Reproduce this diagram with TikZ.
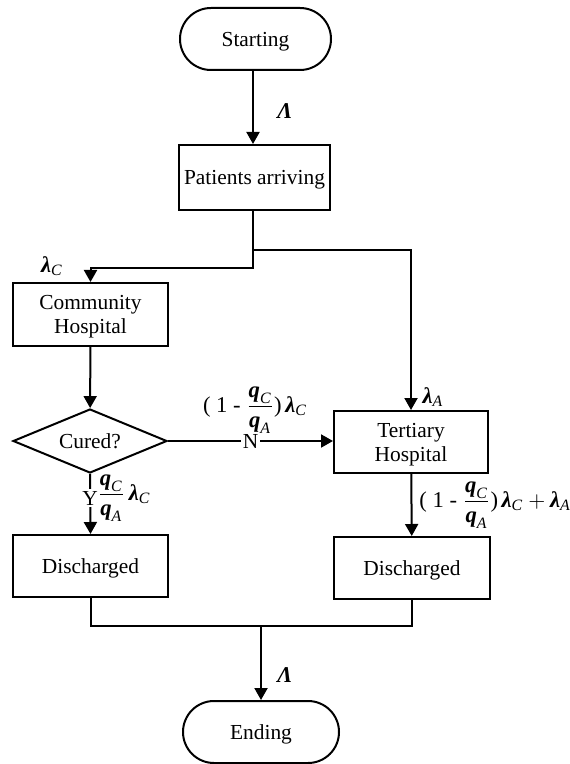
\documentclass[tikz,border=0pt]{standalone}
\usepackage{amsmath}
\usepackage{fontspec}
\setmainfont{Liberation Serif}
\usetikzlibrary{arrows.meta,shapes.geometric,shapes.misc}
\newcommand{\bi}[1]{\textbf{\textit{#1}}}
\newcommand{\lamC}{\text{\bi{λ}}_{\text{\textit{C}}}}
\newcommand{\lamA}{\text{\bi{λ}}_{\text{\textit{A}}}}
\newcommand{\qfrac}{\dfrac{\text{\bi{q}}_{\text{\textit{C}}}}{\text{\bi{q}}_{\text{\textit{A}}}}}
\tikzset{
  box/.style={draw, line width=1pt, rectangle, align=center, inner sep=0pt, text depth=0pt, font=\fontsize{10.7}{12}\selectfont},
  capsule/.style={draw, line width=1pt, rounded rectangle, inner sep=0pt, text depth=0pt, font=\fontsize{10.7}{12}\selectfont},
  decision/.style={draw, line width=1pt, diamond, aspect=2.4, inner sep=0pt, font=\fontsize{10.7}{12}\selectfont},
  conn/.style={line width=1pt},
  arr/.style={line width=1pt, -{Triangle[length=6pt,width=6.5pt]}},
  lbl/.style={inner sep=0pt, font=\fontsize{11.3}{13}\selectfont},
}
\begin{document}
\begin{tikzpicture}[x=0.5pt,y=-0.5pt]
\useasboundingbox (0,0) rectangle (569,764);
\node[capsule, minimum width=75.5pt, minimum height=31pt] (start) at (255.5,39) {Starting};
\node[box, minimum width=75.5pt, minimum height=32.5pt] (pat) at (254.5,177.5) {Patients arriving};
\node[box, minimum width=77.5pt, minimum height=31.5pt] (comm) at (90.5,314.5) {Community\\Hospital};
\node[decision, minimum width=77pt, minimum height=32pt] (cured) at (90,441) {Cured?};
\node[box, minimum width=77pt, minimum height=31pt] (tert) at (411,442) {Tertiary\\Hospital};
\node[box, minimum width=77.5pt, minimum height=31pt] (disL) at (90.5,566) {Discharged};
\node[box, minimum width=78pt, minimum height=31pt] (disR) at (412,568) {Discharged};
\node[capsule, minimum width=78pt, minimum height=31pt] (end) at (261,732) {Ending};

\coordinate (j1) at (253,250);
\coordinate (j2) at (253,268);
\coordinate (b) at (261,626);

\draw[arr] (start.south -| 253,0) -- (pat.north -| 253,0);
\draw[arr] (j1 |- pat.south) -- (j2) -| (comm.north);
\draw[arr] (j1) -| (tert.north);
\draw[arr] (comm) -- (cured);
\draw[arr] (cured.east) -- (tert.west |- cured.east) node[pos=0.5, fill=white, lbl, font=\fontsize{10.7}{12}\selectfont, inner sep=1pt] (nlab) {N};
\draw[arr] (cured.south) -- (disL.north) node[pos=0.4, fill=white, lbl, font=\fontsize{10.7}{12}\selectfont, inner sep=1pt] (ylab) {Y};
\draw[arr] (tert) -- (disR);
\draw[conn] (disL.south) |- (b) -| (disR.south);
\draw[arr] (b) -- (end.north);

\node[lbl] (l1) at (285,111) {$\text{\bi{Λ}}$};
\node[lbl] (l2) at (285,675) {$\text{\bi{Λ}}$};
\node[lbl] (l3) at (52,266) {$\lamC$};
\node[lbl] (l4) at (433,397) {$\lamA$};
\node[lbl] (l5) at (255,410) {$\text{( 1 - }\qfrac\text{)}\,\lamC$};
\node[lbl, anchor=west] (l6) at (97,498) {$\qfrac\,\lamC$};
\node[lbl, anchor=west] (l7) at (419,505) {$\text{( 1 - }\qfrac\text{)}\,\lamC+\lamA$};
\end{tikzpicture}
\end{document}
